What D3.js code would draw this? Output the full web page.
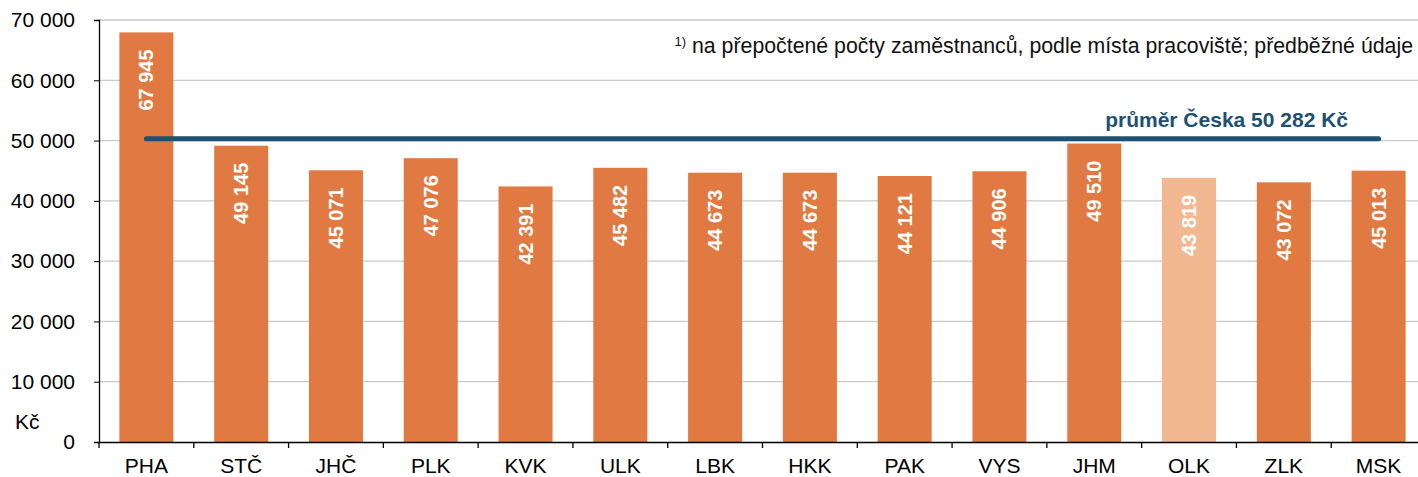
<head>
  <script src="https://d3js.org/d3.v7.min.js"></script>
</head>
<style>
  body { margin: 0; background: #fff; }
  text { font-family: Arial, "Liberation Sans", sans-serif; }
</style>
<body>
  <svg id="chart"></svg>
</body>
<script>
  var w = 1418;
  var h = 477;
  var margin = {top: 20, right: -8, bottom: 35, left: 99};

  // data
  var regions = ["PHA", "STČ", "JHČ", "PLK", "KVK", "ULK", "LBK", "HKK", "PAK", "VYS", "JHM", "OLK", "ZLK", "MSK"];
  var wages = [67945, 49145, 45071, 47076, 42391, 45482, 44673, 44673, 44121, 44906, 49510, 43819, 43072, 45013];
  var highlight = ["OLK"];
  var average = 50282;
  var yTicks = [0, 10000, 20000, 30000, 40000, 50000, 60000, 70000];

  var locale = d3.formatLocale({decimal: ",", thousands: " ", grouping: [3], currency: ["", " Kč"]});
  var fmt = locale.format(",d");

  var svg = d3.select("#chart").attr("width", w).attr("height", h);

  var x = d3.scaleBand()
      .domain(regions)
      .range([margin.left, w - margin.right])
      .padding(0);
  var y = d3.scaleLinear()
      .domain([0, 70000])
      .range([h - margin.bottom, margin.top]);

  var barW = x.bandwidth() * 0.57;

  // gridlines
  svg.append("g")
    .selectAll("line")
    .data(yTicks.slice(1))
    .enter().append("line")
      .attr("x1", margin.left)
      .attr("x2", w)
      .attr("y1", function(d){ return y(d); })
      .attr("y2", function(d){ return y(d); })
      .style("stroke", "#c9c9c9")
      .style("stroke-width", 1.3);

  // bars
  svg.append("g")
    .selectAll("rect")
    .data(regions)
    .enter().append("rect")
      .attr("x", function(d){ return x(d) + (x.bandwidth() - barW) / 2; })
      .attr("width", barW)
      .attr("y", function(d, i){ return y(wages[i]); })
      .attr("height", function(d, i){ return y(0) - y(wages[i]); })
      .style("fill", function(d){ return highlight.indexOf(d) >= 0 ? "#f1b891" : "#e07a42"; });

  // value labels, rotated inside bars
  svg.append("g")
    .selectAll("text")
    .data(regions)
    .enter().append("text")
      .attr("transform", function(d, i){
        return "translate(" + (x(d) + x.bandwidth() / 2 + 7) + "," + (y(wages[i]) + 17) + ") rotate(-90)";
      })
      .attr("text-anchor", "end")
      .style("fill", "#fff")
      .style("font-weight", "bold")
      .style("font-size", "20px")
      .text(function(d, i){ return fmt(wages[i]); });

  // average line
  svg.append("line")
    .attr("x1", x(regions[0]) + x.bandwidth() / 2)
    .attr("x2", x(regions[regions.length - 1]) + x.bandwidth() / 2)
    .attr("y1", y(average))
    .attr("y2", y(average))
    .style("stroke", "#1d5072")
    .style("stroke-width", 5)
    .style("stroke-linecap", "round");

  svg.append("text")
    .attr("x", 1348)
    .attr("y", 127)
    .attr("text-anchor", "end")
    .style("fill", "#1d5072")
    .style("font-weight", "bold")
    .style("font-size", "21px")
    .text("průměr Česka " + fmt(average) + " Kč");

  // footnote
  var note = svg.append("text")
    .attr("x", 1413)
    .attr("y", 53)
    .attr("text-anchor", "end")
    .style("fill", "#111")
    .style("font-size", "21.3px");
  note.append("tspan").attr("dy", "-7").style("font-size", "13px").text("1)");
  note.append("tspan").attr("dy", "7").text(" na přepočtené počty zaměstnanců, podle místa pracoviště; předběžné údaje");

  // y axis
  var yAxis = d3.axisLeft(y)
      .tickValues(yTicks)
      .tickSize(5)
      .tickFormat(fmt);
  var gy = svg.append("g")
    .attr("transform", "translate(" + margin.left + ",0)")
    .call(yAxis);
  gy.select(".domain").style("stroke", "#000").style("stroke-width", 1.3);
  gy.selectAll(".tick line").style("stroke", "#000");
  gy.selectAll(".tick text")
    .attr("x", -24)
    .style("font-size", "21px")
    .style("font-family", "Arial, 'Liberation Sans', sans-serif")
    .style("fill", "#000");

  svg.append("text")
    .attr("x", 15)
    .attr("y", 429)
    .style("font-size", "21px")
    .text("Kč");

  // x axis
  var xAxis = d3.axisBottom(x).tickSize(0).tickSizeOuter(0);
  var gx = svg.append("g")
    .attr("transform", "translate(0," + y(0) + ")")
    .call(xAxis);
  gx.select(".domain").style("stroke", "#000").style("stroke-width", 1.3);
  gx.selectAll(".tick text")
    .attr("y", 16)
    .style("font-size", "21px")
    .style("font-family", "Arial, 'Liberation Sans', sans-serif")
    .style("fill", "#000");

  // ticks between categories
  svg.append("g")
    .selectAll("line")
    .data(regions)
    .enter().append("line")
      .attr("x1", function(d){ return x(d); })
      .attr("x2", function(d){ return x(d); })
      .attr("y1", y(0))
      .attr("y2", y(0) + 6)
      .style("stroke", "#000")
      .style("stroke-width", 1.3);
</script>
